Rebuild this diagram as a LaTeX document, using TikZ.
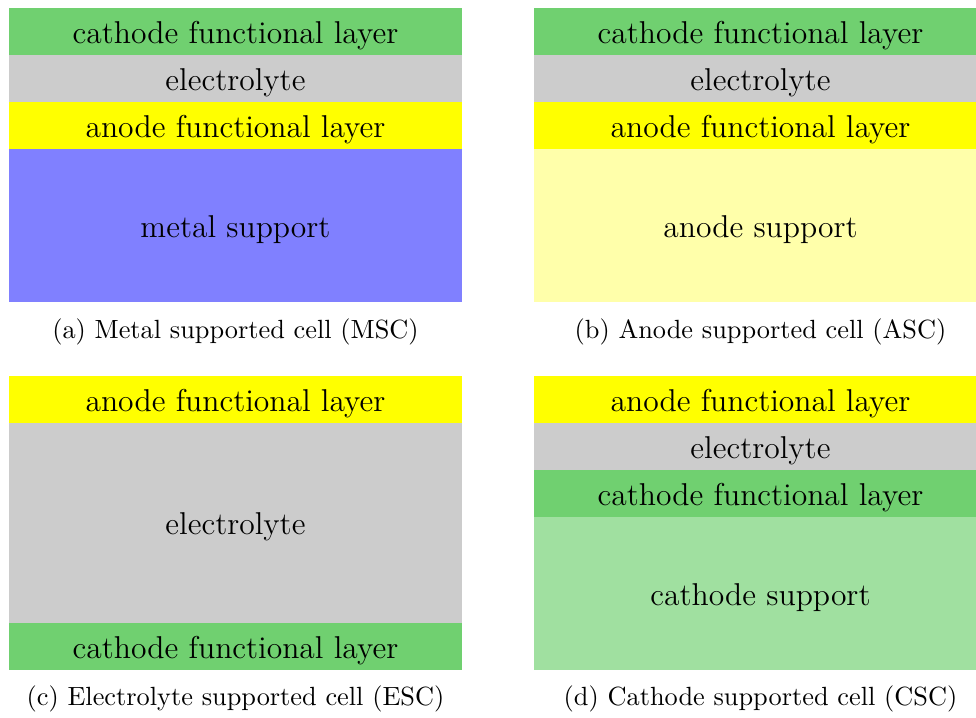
\documentclass[tikz,border=0pt]{standalone}
\usetikzlibrary{positioning}
\definecolor{cathodegreen}{RGB}{112,208,112}
\definecolor{cathodelight}{RGB}{160,224,160}
\definecolor{electrogray}{RGB}{204,204,204}
\definecolor{anodeyellow}{RGB}{255,255,0}
\definecolor{anodelight}{RGB}{255,255,170}
\definecolor{metalblue}{RGB}{128,128,255}
\begin{document}
\begin{tikzpicture}[x=0.38pt,y=-0.38pt]
\tikzstyle{layer}=[rectangle, inner sep=0pt, outer sep=0pt, minimum width=453*0.38pt, minimum height=47*0.38pt, text height=10.8pt, text depth=2pt, font=\large]
\tikzstyle{support}=[layer, minimum height=153*0.38pt]
\tikzstyle{bulk}=[layer, minimum height=200*0.38pt]
\tikzstyle{caption}=[inner sep=0pt]
\useasboundingbox (0,0) rectangle (976,717);
  % (a) metal supported
  \node[layer, fill=cathodegreen, anchor=north west] (acfl) at (9,8) {cathode functional layer};
  \node[layer, fill=electrogray, below=0pt of acfl] (ael) {electrolyte};
  \node[layer, fill=anodeyellow, below=0pt of ael] (aafl) {anode functional layer};
  \node[support, fill=metalblue, below=0pt of aafl] (ams) {metal support};
  \node[caption] (acap) at (235.5,332) {(a)\ Metal supported cell (MSC)};
  % (b) anode supported
  \node[layer, fill=cathodegreen, anchor=north west] (bcfl) at (534,8) {cathode functional layer};
  \node[layer, fill=electrogray, below=0pt of bcfl] (bel) {electrolyte};
  \node[layer, fill=anodeyellow, below=0pt of bel] (bafl) {anode functional layer};
  \node[support, fill=anodelight, below=0pt of bafl] (bas) {anode support};
  \node[caption] (bcap) at (760.5,332) {(b)\ Anode supported cell (ASC)};
  % (c) electrolyte supported
  \node[layer, fill=anodeyellow, anchor=north west] (cafl) at (9,376) {anode functional layer};
  \node[bulk, fill=electrogray, below=0pt of cafl] (cel) {electrolyte};
  \node[layer, fill=cathodegreen, below=0pt of cel] (ccfl) {cathode functional layer};
  \node[caption] (ccap) at (235.5,699) {(c)\ Electrolyte supported cell (ESC)};
  % (d) cathode supported
  \node[layer, fill=anodeyellow, anchor=north west] (dafl) at (534,376) {anode functional layer};
  \node[layer, fill=electrogray, below=0pt of dafl] (del) {electrolyte};
  \node[layer, fill=cathodegreen, below=0pt of del] (dcfl) {cathode functional layer};
  \node[support, fill=cathodelight, below=0pt of dcfl] (dcs) {cathode support};
  \node[caption] (dcap) at (760.5,699) {(d)\ Cathode supported cell (CSC)};
\end{tikzpicture}
\end{document}
